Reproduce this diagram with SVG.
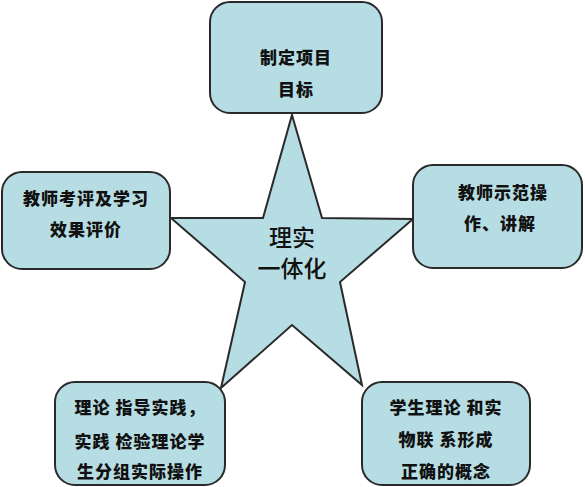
<svg xmlns="http://www.w3.org/2000/svg" width="585" height="487" viewBox="0 0 585 487">
<style>
.box{fill:#b7dde4;stroke:#2a2a2a;stroke-width:2}
.star{fill:#b7dde4;stroke:#2a2a2a;stroke-width:2;stroke-linejoin:miter}
.t{font-family:"Noto Sans CJK SC","Noto Sans",sans-serif;font-size:17px;font-weight:900;fill:#111;text-anchor:middle;letter-spacing:1px}
.c{font-family:"Noto Sans CJK SC","Noto Sans",sans-serif;font-size:23px;font-weight:500;fill:#111;text-anchor:middle}
</style>
<rect width="585" height="487" fill="#ffffff"/>
<g id="connectors">
<polygon class="star" points="292,115 322,218 413,219 340,282 362,385 292,325 221,388 245,282 171,218 263,218"/>
</g>
<g id="center">
<text class="c" x="292" y="246">理实</text>
<text class="c" x="292" y="277">一体化</text>
</g>
<g id="top">
<rect class="box" x="210" y="2" width="172" height="111" rx="20"/>
<text class="t" x="296" y="64">制定项目</text>
<text class="t" x="296" y="96">目标</text>
</g>
<g id="left">
<rect class="box" x="2" y="172" width="168" height="97" rx="20"/>
<text class="t" x="86" y="205">教师考评及学习</text>
<text class="t" x="86" y="236">效果评价</text>
</g>
<g id="right">
<rect class="box" x="413" y="165" width="169" height="103" rx="20"/>
<text class="t" x="503" y="199">教师示范操</text>
<text class="t" x="500" y="230">作、讲解</text>
</g>
<g id="bottomleft">
<rect class="box" x="55" y="382" width="170" height="103" rx="20"/>
<text class="t" x="140" y="414">理论 指导实践，</text>
<text class="t" x="140" y="448">实践 检验理论学</text>
<text class="t" x="140" y="478">生分组实际操作</text>
</g>
<g id="bottomright">
<rect class="box" x="362" y="382" width="168" height="103" rx="20"/>
<text class="t" x="446" y="414">学生理论 和实</text>
<text class="t" x="446" y="446">物联 系形成</text>
<text class="t" x="446" y="478">正确的概念</text>
</g>
</svg>
